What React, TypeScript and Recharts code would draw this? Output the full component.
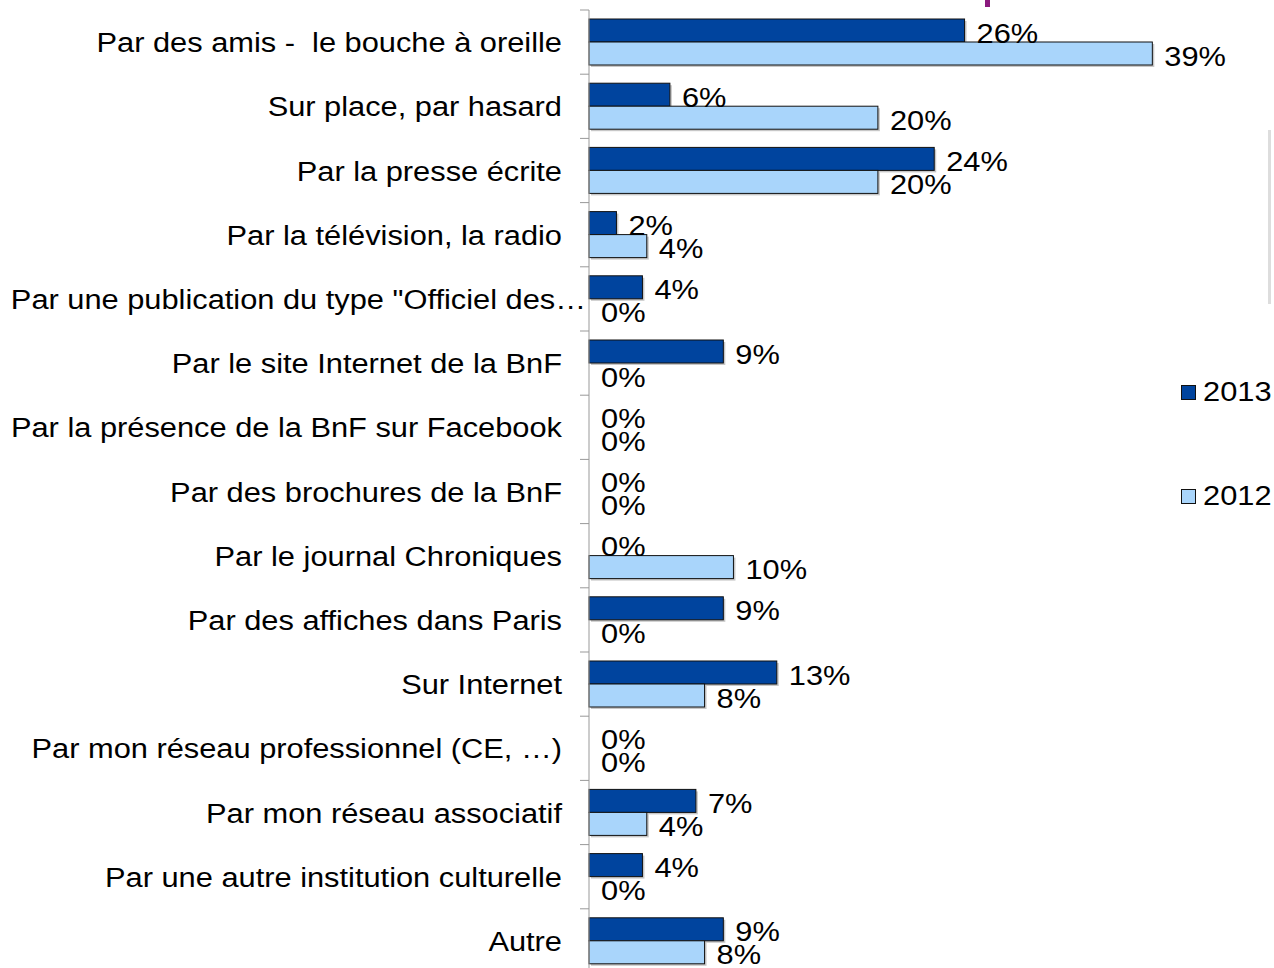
import { BarChart, Bar, XAxis, YAxis, LabelList } from 'recharts'

const CATEGORIES = [
  'Par des amis -  le bouche à oreille',
  'Sur place, par hasard',
  'Par la presse écrite',
  'Par la télévision, la radio',
  'Par une publication du type "Officiel des…',
  'Par le site Internet de la BnF',
  'Par la présence de la BnF sur Facebook',
  'Par des brochures de la BnF',
  'Par le journal Chroniques',
  'Par des affiches dans Paris',
  'Sur Internet',
  'Par mon réseau professionnel (CE, …)',
  'Par mon réseau associatif',
  'Par une autre institution culturelle',
  'Autre',
]
const V2013 = [26, 5.6, 23.9, 1.9, 3.7, 9.3, 0, 0, 0, 9.3, 13, 0, 7.4, 3.7, 9.3]
const V2012 = [39, 20, 20, 4, 0, 0, 0, 0, 10, 0, 8, 0, 4, 0, 8]

const SERIES = [
  { key: 'y2013', name: '2013', color: '#00449E' },
  { key: 'y2012', name: '2012', color: '#A9D5FB' },
]

const data = CATEGORIES.map((name, i) => ({ name, y2013: V2013[i], y2012: V2012[i] }))

const W = 1274
const H = 976
const M = { top: 10, right: 35, bottom: 3, left: 0 }
const AXIS_W = 589
const STEP = (H - M.top - M.bottom) / CATEGORIES.length
const FONT = '"Liberation Sans", Arial, sans-serif'
const SX = 1.1 // text in the source is slightly stretched horizontally

function Tick(props: any) {
  const { y, payload } = props
  const top = y - STEP / 2
  // truncated labels run right up to the axis in the source
  const tx = String(payload.value).endsWith('…') && !String(payload.value).endsWith(')') ? AXIS_W - 3 : AXIS_W - 27
  return (
    <g>
      <line x1={AXIS_W - 9} x2={AXIS_W} y1={top} y2={top} stroke="#999" />
      <text transform={`translate(${tx},${y}) scale(${SX},1)`} dy="0.36em" textAnchor="end"
        fontSize={28} fill="#000" fontFamily={FONT} style={{ whiteSpace: 'pre' }}>
        {payload.value}
      </text>
    </g>
  )
}

function BarShape(props: any) {
  const { x, y, width, height, fill } = props
  if (!width || width <= 0) return <g />
  return (
    <g>
      <rect x={x + 2} y={y + 2} width={width} height={height} fill="#000" opacity={0.22} />
      <rect x={x} y={y} width={width} height={height} fill={fill} stroke="#111" strokeWidth={1} />
    </g>
  )
}

function ValueLabel(props: any) {
  const { x, y, width, height, value } = props
  return (
    <text transform={`translate(${x + width + 12},${y + height / 2 + 2}) scale(${SX},1)`} dy="0.36em"
      fontSize={28} fill="#000" fontFamily={FONT}>
      {Math.round(value)}%
    </text>
  )
}

export default function App() {
  return (
    <div style={{ position: 'fixed', left: 0, top: 0, width: W, height: 968, overflow: 'hidden', background: '#fff' }}>
      <BarChart width={W} height={H} data={data} layout="vertical" margin={M} barGap={0} barSize={23}>
        <XAxis type="number" domain={[0, 45]} hide />
        <YAxis
          type="category" dataKey="name" width={AXIS_W}
          axisLine={{ stroke: '#999' }} tickLine={false}
          tick={<Tick />} interval={0}
        />
        {SERIES.map(s => (
          <Bar key={s.key} dataKey={s.key} name={s.name} fill={s.color}
            shape={<BarShape />} isAnimationActive={false}>
            <LabelList dataKey={s.key} content={<ValueLabel />} />
          </Bar>
        ))}
      </BarChart>
      <div style={{ position: 'absolute', left: 1181, top: 0, fontFamily: FONT, fontSize: 28 }}>
        {SERIES.map((s, i) => (
          <div key={s.key} style={{ position: 'absolute', top: 376 + i * 104, display: 'flex', alignItems: 'center', whiteSpace: 'nowrap' }}>
            <span style={{ width: 13, height: 13, background: s.color, border: '1px solid #111', display: 'inline-block', marginRight: 7 }} />
            <span style={{ display: 'inline-block', transform: `scaleX(${SX})`, transformOrigin: 'left center' }}>{s.name}</span>
          </div>
        ))}
      </div>
      <div style={{ position: 'absolute', left: 1268, top: 130, width: 3, height: 174, background: '#ddd' }} />
      <div style={{ position: 'absolute', left: 985, top: 0, width: 5, height: 7, background: '#8B1A7E' }} />
    </div>
  )
}
